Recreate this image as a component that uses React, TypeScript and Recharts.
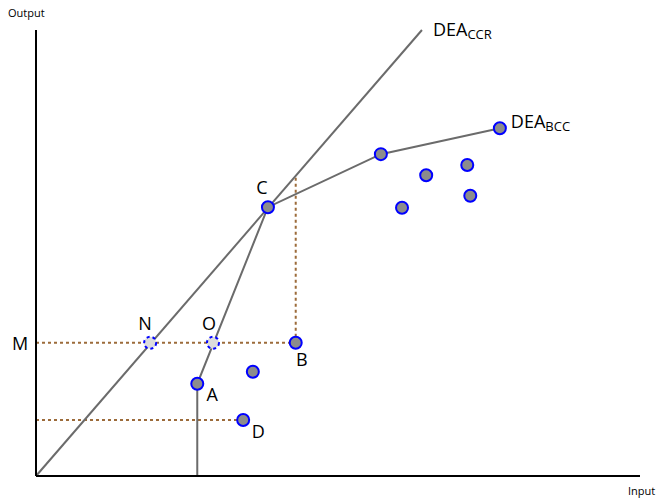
import React from 'react';
import { ComposedChart, XAxis, YAxis, Line, Scatter, ReferenceLine } from 'recharts';

// DEA frontiers (input on x, output on y)
const ccrLine = [
  { x: 0, y: 0 },
  { x: 6.39, y: 7.4 },
];
const bccLine = [
  { x: 2.67, y: 0 },
  { x: 2.67, y: 1.53 },
  { x: 3.84, y: 4.46 },
  { x: 5.71, y: 5.34 },
  { x: 7.68, y: 5.77 },
];

// projection guides
const guideM = [
  { x: 0, y: 2.21 },
  { x: 4.3, y: 2.21 },
];
const guideB = [
  { x: 4.3, y: 2.21 },
  { x: 4.3, y: 4.99 },
];
const guideD = [
  { x: 0, y: 0.93 },
  { x: 3.43, y: 0.93 },
];

// decision making units
const units = [
  { name: 'C', x: 3.84, y: 4.46 },
  { name: 'B', x: 4.3, y: 2.21 },
  { name: 'A', x: 2.67, y: 1.53 },
  { name: 'D', x: 3.43, y: 0.93 },
  { name: '', x: 3.59, y: 1.73 },
  { name: '', x: 5.71, y: 5.34 },
  { name: '', x: 7.68, y: 5.77 },
  { name: '', x: 6.46, y: 4.99 },
  { name: '', x: 7.14, y: 5.16 },
  { name: '', x: 6.06, y: 4.45 },
  { name: '', x: 7.19, y: 4.65 },
];

// projected (virtual) units
const virtualUnits = [
  { name: 'N', x: 1.89, y: 2.21 },
  { name: 'O', x: 2.93, y: 2.21 },
];

const axisMarks = [{ name: 'M', x: 0, y: 2.21 }];

const frontierLabels = [
  { name: 'DEA', sub: 'CCR', x: 6.39, y: 7.4 },
  { name: 'DEA', sub: 'BCC', x: 7.68, y: 5.77 },
];

const labelOffset: { [key: string]: [number, number] } = {
  C: [-6, -20],
  B: [6, 16],
  A: [15, 10],
  D: [15, 11],
  N: [-5, -20],
  O: [-4, -20],
  M: [-16, 0],
  CCR: [11, -1],
  BCC: [11, -7],
};

const font = '"Open Sans", "Noto Sans", sans-serif';

const Letter = ({ cx, cy, name }: any) => {
  if (!name) return null;
  const [dx, dy] = labelOffset[name];
  return (
    <text x={cx + dx} y={cy + dy} textAnchor="middle" dominantBaseline="central" fontSize={18} fontFamily={font} fill="#000">
      {name}
    </text>
  );
};

const UnitDot = (props: any) => (
  <g>
    <circle cx={props.cx} cy={props.cy} r={6} fill="#8c8c8c" stroke="#0000ff" strokeWidth={2} />
    <Letter cx={props.cx} cy={props.cy} name={props.payload.name} />
  </g>
);

const VirtualDot = (props: any) => (
  <g>
    <circle cx={props.cx} cy={props.cy} r={6} fill="#dcdcdc" stroke="#0000ff" strokeWidth={2} strokeDasharray="3 3" />
    <Letter cx={props.cx} cy={props.cy} name={props.payload.name} />
  </g>
);

const MarkOnly = (props: any) => <Letter cx={props.cx} cy={props.cy} name={props.payload.name} />;

const FrontierLabel = (props: any) => {
  const [dx, dy] = labelOffset[props.payload.sub];
  return (
    <text x={props.cx + dx} y={props.cy + dy} dominantBaseline="central" fontSize={18} fontFamily={font} fill="#000">
      {props.payload.name}
      <tspan fontSize={13} dy={5}>{props.payload.sub}</tspan>
    </text>
  );
};

const lineProps = { type: 'linear' as const, dataKey: 'y', dot: false, activeDot: false, isAnimationActive: false };
const guide = { ...lineProps, stroke: '#9c6b3a', strokeWidth: 2, strokeDasharray: '3 3' };
const frontier = { ...lineProps, stroke: '#6b6b6b', strokeWidth: 2 };

export default function App() {
  return (
    <div style={{ position: 'absolute', left: 0, top: 0, width: 664, height: 502, background: '#fff' }}>
      <ComposedChart width={664} height={502} margin={{ top: 30, right: 24, bottom: 26, left: 36 }}>
        <XAxis type="number" dataKey="x" domain={[0, 10]} hide />
        <YAxis type="number" dataKey="y" domain={[0, 7.4]} hide />
        <Line data={guideM} {...guide} />
        <Line data={guideB} {...guide} />
        <Line data={guideD} {...guide} />
        <Line data={ccrLine} {...frontier} />
        <Line data={bccLine} {...frontier} />
        <ReferenceLine segment={[{ x: 0, y: 0 }, { x: 10, y: 0 }]} stroke="#000" strokeWidth={2} ifOverflow="visible" />
        <ReferenceLine segment={[{ x: 0, y: 0 }, { x: 0, y: 7.4 }]} stroke="#000" strokeWidth={2} ifOverflow="visible" />
        <Scatter data={virtualUnits} shape={VirtualDot} isAnimationActive={false} />
        <Scatter data={units} shape={UnitDot} isAnimationActive={false} />
        <Scatter data={axisMarks} shape={MarkOnly} isAnimationActive={false} />
        <Scatter data={frontierLabels} shape={FrontierLabel} isAnimationActive={false} />
      </ComposedChart>
      <div style={{ position: 'absolute', left: 8, top: 5, fontSize: 11, fontFamily: font }}>Output</div>
      <div style={{ position: 'absolute', left: 628, top: 483, fontSize: 11, fontFamily: font }}>Input</div>
    </div>
  );
}
